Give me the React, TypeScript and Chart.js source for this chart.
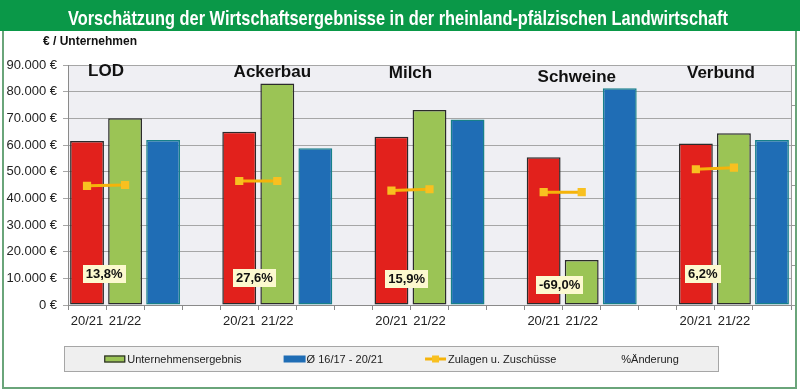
import { useEffect, useRef } from "react";
import { Chart, registerables } from "chart.js";

Chart.register(...registerables);

// ---------- data ----------
const chartTitle = "Vorschätzung der Wirtschaftsergebnisse in der rheinland-pfälzischen Landwirtschaft";
const yAxisTitle = "€ / Unternehmen";
const groups = ["LOD", "Ackerbau", "Milch", "Schweine", "Verbund"];
const groupTickLabels = ["20/21", "21/22", "", ""];
const ergebnis2021 = [61500, 65000, 63100, 55400, 60600];
const ergebnis2122 = [70000, 83100, 73100, 16900, 64400];
const durchschnitt1617_2021 = [61900, 58800, 69600, 81300, 61900];
const zulagen2021 = [44700, 46500, 42900, 42300, 50900];
const zulagen2122 = [45000, 46500, 43400, 42300, 51500];
const aenderungPct = [13.8, 27.6, 15.9, -69.0, 6.2];
const legendNames = ["Unternehmensergebnis", "Ø 16/17 - 20/21", "Zulagen u. Zuschüsse", "%Änderung"];
const yMin = 0;
const yMax = 90000;
const yStep = 10000;

// ---------- layout constants (not data) ----------
const groupLabelShift = [0, 0.37, 0, 0.37, 0.16]; // in slot widths
const groupLabelDy = [6, 7.5, 8, 12, 8]; // px below plot top (centre)
const pctShift = [-0.05, -0.1, -0.1, -0.08, -0.32]; // in slot widths
const pctAnchor = [11600, 10100, 9900, 7500, 11600]; // y-scale anchor of % boxes

const FONT = '"Liberation Sans", Arial, sans-serif';
const RED = "#e2211c";
const GREEN = "#9bc455";
const BLUE = "#1f6db5";
const BLUE_BORDER = "#17808a";
const DARK = "#2b2b2b";
const YELLOW = "#f5b30a";
const YELLOW_PT = "#f8c020";

// build the slot structure: 4 slots per group, last gap removed
const slotLabels: string[] = [];
groups.forEach(() => slotLabels.push(...groupTickLabels));
slotLabels.pop();
const nSlots = slotLabels.length;

function spread(values: number[], offset: number) {
  const arr: (number | null)[] = new Array(nSlots).fill(null);
  values.forEach((v, g) => {
    arr[g * 4 + offset] = v;
  });
  return arr;
}
const redData = spread(ergebnis2021, 0);
const greenData = spread(ergebnis2122, 1);
const blueData = spread(durchschnitt1617_2021, 2);
const zulagenData: (number | null)[] = new Array(nSlots).fill(null);
zulagen2021.forEach((v, g) => (zulagenData[g * 4] = v));
zulagen2122.forEach((v, g) => (zulagenData[g * 4 + 1] = v));

function fmtEuro(v: number) {
  return String(v).replace(/\B(?=(\d{3})+(?!\d))/g, ".") + " €";
}
function fmtPct(v: number) {
  return v.toFixed(1).replace(".", ",") + "%";
}

const decor = {
  id: "decor",
  beforeDraw(chart: any) {
    const { ctx, chartArea } = chart;
    const W = chart.width;
    const H = chart.height;
    ctx.save();
    ctx.fillStyle = "#ffffff";
    ctx.fillRect(0, 0, W, H);
    // frame
    ctx.strokeStyle = "#6aa57a";
    ctx.lineWidth = 2;
    ctx.beginPath();
    ctx.moveTo(3, 0);
    ctx.lineTo(3, 388);
    ctx.lineTo(796, 388);
    ctx.lineTo(796, 0);
    ctx.stroke();
    // banner
    ctx.fillStyle = "#0a9848";
    ctx.fillRect(0, 0, W, 31);
    ctx.font = 'bold 21px "Liberation Sans Narrow", "Liberation Sans", Arial, sans-serif';
    const tw = ctx.measureText(chartTitle).width;
    ctx.translate(398, 24.5);
    ctx.scale(660 / tw, 1);
    ctx.fillStyle = "#ffffff";
    ctx.textAlign = "center";
    ctx.textBaseline = "alphabetic";
    ctx.fillText(chartTitle, 0, 0);
    ctx.restore();

    ctx.save();
    ctx.font = "bold 12px " + FONT;
    ctx.fillStyle = "#111";
    ctx.textAlign = "left";
    ctx.textBaseline = "middle";
    ctx.fillText(yAxisTitle, 43, 42);
    // plot background
    ctx.fillStyle = "#efeff3";
    ctx.fillRect(chartArea.left, chartArea.top, chartArea.right - chartArea.left, chartArea.bottom - chartArea.top);
    ctx.restore();
  },
  afterDatasetsDraw(chart: any) {
    const { ctx, chartArea } = chart;
    const xs = chart.scales.x;
    const ys = chart.scales.y;
    const slotW = (chartArea.right - chartArea.left) / nSlots;
    ctx.save();
    // group names
    ctx.font = "bold 17px " + FONT;
    ctx.fillStyle = "#111";
    ctx.textAlign = "center";
    ctx.textBaseline = "middle";
    groups.forEach((name, g) => {
      const x = (xs.getPixelForValue(g * 4) + xs.getPixelForValue(g * 4 + 1)) / 2 + groupLabelShift[g] * slotW;
      ctx.fillText(name, x, chartArea.top + groupLabelDy[g]);
    });
    // % change boxes
    ctx.font = "bold 13px " + FONT;
    aenderungPct.forEach((v, g) => {
      const txt = fmtPct(v);
      const x = (xs.getPixelForValue(g * 4) + xs.getPixelForValue(g * 4 + 1)) / 2 + pctShift[g] * slotW;
      const y = ys.getPixelForValue(pctAnchor[g]);
      const w = ctx.measureText(txt).width + 6;
      const h = 18;
      ctx.fillStyle = "#fcf9cf";
      ctx.fillRect(Math.round(x - w / 2), Math.round(y - h / 2), Math.round(w), h);
      ctx.fillStyle = "#111";
      ctx.fillText(txt, x, y + 0.5);
    });
    ctx.restore();
  },
  afterDraw(chart: any) {
    const { ctx } = chart;
    ctx.save();
    // legend box
    const bx = 64, by = 346, bw = 655, bh = 26;
    ctx.fillStyle = "#efefef";
    ctx.fillRect(bx, by, bw, bh);
    ctx.strokeStyle = "#a6a6a6";
    ctx.lineWidth = 1;
    ctx.strokeRect(bx + 0.5, by + 0.5, bw - 1, bh - 1);
    ctx.font = "11px " + FONT;
    const sw = 21, gap = 2, spacing = 42;
    const widths = legendNames.map((n) => sw + gap + ctx.measureText(n).width);
    const total = widths.reduce((a, b) => a + b, 0) + spacing * (legendNames.length - 1);
    let x = bx + bw / 2 - total / 2;
    const cy = by + bh / 2;
    legendNames.forEach((name, i) => {
      if (i === 0) {
        ctx.fillStyle = GREEN;
        ctx.fillRect(x, cy - 3.5, sw, 7);
        ctx.strokeStyle = DARK;
        ctx.lineWidth = 1.2;
        ctx.strokeRect(x + 0.5, cy - 3, sw - 1, 6);
      } else if (i === 1) {
        ctx.fillStyle = BLUE;
        ctx.fillRect(x, cy - 3.5, sw + 1, 7);
      } else if (i === 2) {
        ctx.strokeStyle = YELLOW;
        ctx.lineWidth = 3;
        ctx.beginPath();
        ctx.moveTo(x, cy);
        ctx.lineTo(x + sw, cy);
        ctx.stroke();
        ctx.fillStyle = YELLOW_PT;
        ctx.fillRect(x + sw / 2 - 3.5, cy - 3.5, 7, 7);
      }
      ctx.fillStyle = "#222";
      ctx.textAlign = "left";
      ctx.textBaseline = "middle";
      ctx.fillText(name, x + sw + gap, cy + 0.5);
      x += widths[i] + spacing;
    });
    ctx.restore();
  },
};

export default function App() {
  const ref = useRef<HTMLCanvasElement>(null);
  useEffect(() => {
    document.body.style.margin = "0";
    const canvas = ref.current!;
    const barCommon = {
      type: "bar" as const,
      categoryPercentage: 1,
      barPercentage: 0.89,
      borderWidth: 1.5,
      borderSkipped: false as const,
      order: 1,
    };
    const chart = new Chart(canvas, {
      type: "bar",
      data: {
        labels: slotLabels,
        datasets: [
          {
            type: "line",
            label: legendNames[2],
            data: zulagenData,
            borderColor: YELLOW,
            borderWidth: 3,
            backgroundColor: YELLOW_PT,
            pointStyle: "rect",
            pointRadius: 5.8,
            pointBackgroundColor: YELLOW_PT,
            pointBorderColor: YELLOW_PT,
            pointBorderWidth: 0,
            spanGaps: false,
            order: 0,
          } as any,
          { ...barCommon, label: "20/21", data: redData, backgroundColor: RED, borderColor: DARK },
          { ...barCommon, label: legendNames[0], data: greenData, backgroundColor: GREEN, borderColor: DARK },
          { ...barCommon, label: legendNames[1], data: blueData, backgroundColor: BLUE, borderColor: BLUE_BORDER },
        ],
      },
      options: {
        animation: false,
        responsive: false,
        events: [],
        layout: { padding: { top: 65, left: 0, right: 0, bottom: 0 } },
        plugins: {
          legend: { display: false },
          title: { display: false },
          tooltip: { enabled: false },
        },
        scales: {
          x: {
            stacked: true,
            offset: true,
            grid: { display: true, drawOnChartArea: false, drawTicks: true, tickLength: 5, color: "#8a8a8a", offset: true },
            border: { color: "#8a8a8a" },
            ticks: { font: { family: FONT, size: 13 }, color: "#222", padding: 4, maxRotation: 0, autoSkip: false },
            afterFit: (s: any) => {
              s.height = 85;
            },
          },
          y: {
            min: yMin,
            max: yMax,
            ticks: { stepSize: yStep, callback: (v: any) => fmtEuro(Number(v)), font: { family: FONT, size: 13 }, color: "#222", padding: 6 },
            grid: { color: "#a6a6a6", tickLength: 5 },
            border: { color: "#8a8a8a" },
            afterFit: (s: any) => {
              s.width = 68;
            },
          },
          y1: {
            position: "right",
            min: 0,
            max: 6,
            ticks: { stepSize: 1, display: false },
            grid: { drawOnChartArea: false, tickLength: 4, color: "#9a9a9a" },
            border: { color: "#9a9a9a" },
            afterFit: (s: any) => {
              s.width = 9;
            },
          },
        },
      } as any,
      plugins: [decor],
    });
    return () => chart.destroy();
  }, []);
  return (
    <div style={{ position: "absolute", left: 0, top: 0, width: 800, height: 390, background: "#fff" }}>
      <canvas ref={ref} width={800} height={390} style={{ display: "block", width: 800, height: 390 }} />
    </div>
  );
}
